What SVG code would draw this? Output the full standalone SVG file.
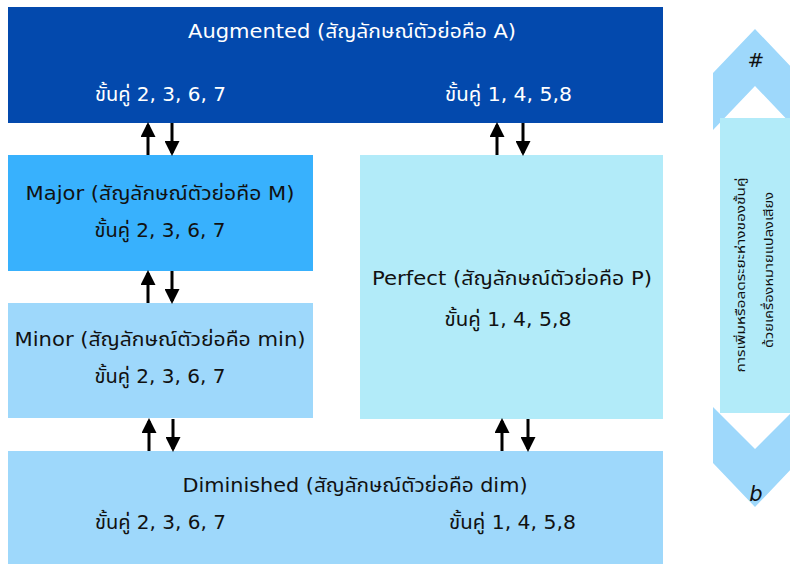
<svg xmlns="http://www.w3.org/2000/svg" width="790" height="564" viewBox="0 0 790 564">
<style>
text{font-family:"DejaVu Sans","Noto Sans Thai","Noto Sans",sans-serif;font-size:20px;fill:#111;}
.w{fill:#fff;}
.c{text-anchor:middle;}
.v{font-size:12.5px;text-anchor:middle;}
.ar{stroke:#000;stroke-width:3;fill:none;}
</style>
<defs>
<marker id="ah" viewBox="0 0 10 10" refX="8" refY="5" markerWidth="5" markerHeight="5" orient="auto" markerUnits="strokeWidth">
<path d="M0,0 L10,5 L0,10 Z" fill="#000"/>
</marker>
</defs>
<rect width="790" height="564" fill="#fff"/>
<g id="augmented">
<rect x="8" y="7" width="655" height="116" fill="#0349ad"/>
<text class="w c" x="352" y="38" textLength="328" lengthAdjust="spacingAndGlyphs">Augmented (สัญลักษณ์ตัวย่อคือ A)</text>
<text class="w" x="95" y="101" textLength="131" lengthAdjust="spacingAndGlyphs">ขั้นคู่ 2, 3, 6, 7</text>
<text class="w" x="445" y="101" textLength="127" lengthAdjust="spacingAndGlyphs">ขั้นคู่ 1, 4, 5,8</text>
</g>
<g id="major">
<rect x="8" y="155" width="305" height="116" fill="#38b1fd"/>
<text class="c" x="160" y="200" textLength="269" lengthAdjust="spacingAndGlyphs">Major (สัญลักษณ์ตัวย่อคือ M)</text>
<text class="c" x="160" y="237" textLength="131" lengthAdjust="spacingAndGlyphs">ขั้นคู่ 2, 3, 6, 7</text>
</g>
<g id="minor">
<rect x="8" y="303" width="305" height="115" fill="#9ed8fb"/>
<text class="c" x="160" y="346" textLength="291" lengthAdjust="spacingAndGlyphs">Minor (สัญลักษณ์ตัวย่อคือ min)</text>
<text class="c" x="160" y="383" textLength="131" lengthAdjust="spacingAndGlyphs">ขั้นคู่ 2, 3, 6, 7</text>
</g>
<g id="perfect">
<rect x="360" y="155" width="303" height="264" fill="#b2ebf9"/>
<text class="c" x="512" y="285" textLength="280" lengthAdjust="spacingAndGlyphs">Perfect (สัญลักษณ์ตัวย่อคือ P)</text>
<text class="c" x="508" y="326" textLength="127" lengthAdjust="spacingAndGlyphs">ขั้นคู่ 1, 4, 5,8</text>
</g>
<g id="diminished">
<rect x="8" y="451" width="655" height="113" fill="#9ed8fb"/>
<text class="c" x="355" y="492" textLength="345" lengthAdjust="spacingAndGlyphs">Diminished (สัญลักษณ์ตัวย่อคือ dim)</text>
<text x="95" y="529" textLength="131" lengthAdjust="spacingAndGlyphs">ขั้นคู่ 2, 3, 6, 7</text>
<text x="449" y="529" textLength="127" lengthAdjust="spacingAndGlyphs">ขั้นคู่ 1, 4, 5,8</text>
</g>
<g id="accidental">
<polygon points="713,73 755,29 797,73 797,130 755,86 713,130" fill="#9ed8fb"/>
<polygon points="713,407 755,449 797,407 797,463 755,507 713,463" fill="#9ed8fb"/>
<rect x="720" y="118" width="75" height="295" fill="#b2ebf9"/>
<text class="c" x="756" y="67" style="font-size:20px">#</text>
<text class="c" x="756" y="501" style="font-size:21px;font-style:italic">b</text>
<text class="v" transform="translate(745 275) rotate(-90)" textLength="195" lengthAdjust="spacingAndGlyphs">การเพิ่มหรือลดระยะห่างของขั้นคู่</text>
<text class="v" transform="translate(773 270) rotate(-90)" textLength="156" lengthAdjust="spacingAndGlyphs">ด้วยเครื่องหมายแปลงเสียง</text>
</g>
<g id="connectors">
<line class="ar" x1="148" y1="155" x2="148" y2="125" marker-end="url(#ah)"/>
<line class="ar" x1="172" y1="123" x2="172" y2="153" marker-end="url(#ah)"/>
<line class="ar" x1="497" y1="155" x2="497" y2="125" marker-end="url(#ah)"/>
<line class="ar" x1="523" y1="123" x2="523" y2="153" marker-end="url(#ah)"/>
<line class="ar" x1="148" y1="303" x2="148" y2="273" marker-end="url(#ah)"/>
<line class="ar" x1="172" y1="271" x2="172" y2="301" marker-end="url(#ah)"/>
<line class="ar" x1="149" y1="451" x2="149" y2="421" marker-end="url(#ah)"/>
<line class="ar" x1="173" y1="419" x2="173" y2="449" marker-end="url(#ah)"/>
<line class="ar" x1="502" y1="451" x2="502" y2="421" marker-end="url(#ah)"/>
<line class="ar" x1="528" y1="419" x2="528" y2="449" marker-end="url(#ah)"/>
</g>
</svg>
